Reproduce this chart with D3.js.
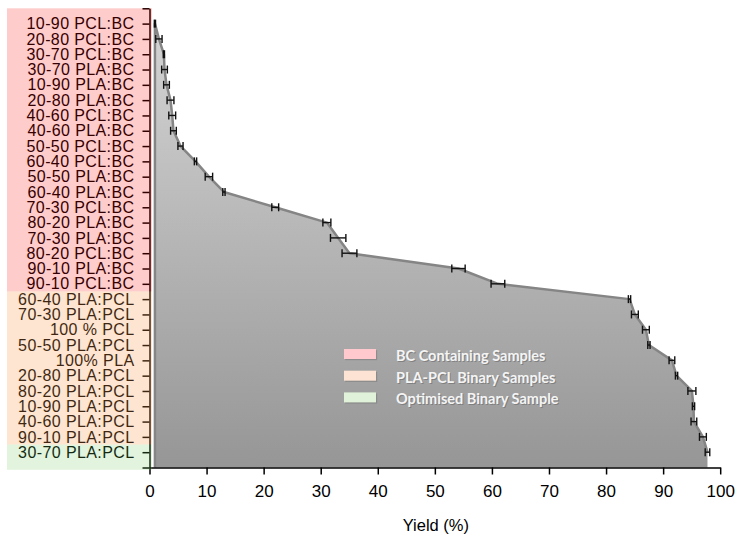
<!DOCTYPE html>
<html>
<head>
<meta charset="utf-8">
<script src="https://cdn.jsdelivr.net/npm/d3@7/dist/d3.min.js"></script>
<style>
  html, body { margin: 0; padding: 0; background: #ffffff; }
  svg { display: block; }
</style>
</head>
<body>
<script>
// ---- data ----
const categories = [
  "10-90 PCL:BC", "20-80 PCL:BC", "30-70 PCL:BC", "30-70 PLA:BC", "10-90 PLA:BC",
  "20-80 PLA:BC", "40-60 PCL:BC", "40-60 PLA:BC", "50-50 PCL:BC", "60-40 PCL:BC",
  "50-50 PLA:BC", "60-40 PLA:BC", "70-30 PCL:BC", "80-20 PLA:BC", "70-30 PLA:BC",
  "80-20 PCL:BC", "90-10 PLA:BC", "90-10 PCL:BC",
  "60-40 PLA:PCL", "70-30 PLA:PCL", "100 % PCL", "50-50 PLA:PCL", "100% PLA",
  "20-80 PLA:PCL", "80-20 PLA:PCL", "10-90 PLA:PCL", "40-60 PLA:PCL", "90-10 PLA:PCL",
  "30-70 PLA:PCL"
];
const yields = [
  0.95, 1.65, 2.52, 2.63, 2.98, 3.68, 3.98, 4.2, 5.43, 8.06,
  10.41, 13.04, 22.03, 31.08, 33.06, 35.04, 54.14, 61.05,
  84.11, 85.05, 86.98, 87.51, 91.54, 92.35, 95.04, 95.32, 95.39, 96.97,
  97.77
];
const errors = [
  0.1, 0.55, 0.1, 0.5, 0.5, 0.6, 0.6, 0.5, 0.45, 0.2,
  0.65, 0.2, 0.6, 0.7, 1.35, 1.3, 1.17, 1.2,
  0.2, 0.6, 0.6, 0.2, 0.5, 0.2, 0.7, 0.2, 0.5, 0.6,
  0.4
];
const groupNames = ["BC Containing Samples", "PLA-PCL Binary Samples", "Optimised Binary Sample"];
const groupCounts = [18, 10, 1];
const groupOverlay = ["rgba(255,0,0,0.2)", "rgba(247,150,70,0.25)", "rgba(112,200,90,0.2)"];
const groupSwatch = ["#ffc9cd", "#fde3d3", "#e0f2da"];
const xTicks = [0, 10, 20, 30, 40, 50, 60, 70, 80, 90, 100];
const xTitle = "Yield (%)";

// ---- layout ----
const W = 743, H = 542;
const svg = d3.select("body").append("svg").attr("width", W).attr("height", H);

const x = d3.scaleLinear().domain([0, 100]).range([149.5, 720.2]);
const y = d3.scaleLinear().domain([0, 30]).range([8.3, 467.5]);

const pts = yields.map((v, i) => ({ v, e: errors[i], k: i + 1, c: categories[i] }));

// gradient
const defs = svg.append("defs");
const grad = defs.append("linearGradient").attr("id", "g").attr("x1", 0).attr("y1", 0).attr("x2", 0).attr("y2", 1);
grad.append("stop").attr("offset", "0%").attr("stop-color", "#d4d4d4");
grad.append("stop").attr("offset", "100%").attr("stop-color", "#969696");

// area polygon
const first = pts[0], last = pts[pts.length - 1];
const poly = [[x(first.v), y(30)], ...pts.map(p => [x(p.v), y(p.k)]), [x(last.v), y(30)]];
svg.append("path")
  .attr("d", d3.line()(poly) + "Z")
  .attr("fill", "url(#g)")
  .attr("stroke", "none");
svg.append("path")
  .attr("d", d3.line()([[x(first.v), y(30)], ...pts.map(p => [x(p.v), y(p.k)])]))
  .attr("fill", "none")
  .attr("stroke", "#858585")
  .attr("stroke-width", 2.5)
  .attr("stroke-linejoin", "round");

// error bars
const eb = svg.append("g").attr("stroke", "#111").attr("stroke-width", 1.4).attr("fill", "none");
pts.forEach(p => {
  const yy = y(p.k), x0 = x(p.v - p.e), x1 = x(p.v + p.e);
  eb.append("line").attr("x1", x0).attr("x2", x1).attr("y1", yy).attr("y2", yy);
  eb.append("line").attr("x1", x0).attr("x2", x0).attr("y1", yy - 4).attr("y2", yy + 4);
  eb.append("line").attr("x1", x1).attr("x2", x1).attr("y1", yy - 4).attr("y2", yy + 4);
});

// x axis
const xAxis = svg.append("g")
  .attr("transform", `translate(0,${y(30)})`)
  .call(d3.axisBottom(x).tickValues(xTicks).tickSize(7).tickSizeOuter(0).tickPadding(10));
xAxis.select(".domain").attr("stroke", "#000").attr("stroke-width", 1.5);
xAxis.selectAll(".tick line").attr("stroke", "#000").attr("stroke-width", 1.5);
xAxis.selectAll(".tick text")
  .attr("font-family", "'Liberation Sans', Arial, sans-serif")
  .attr("font-size", 17).attr("fill", "#000");

// y axis
const yTickVals = d3.range(0, 31);
const yAxis = svg.append("g")
  .attr("transform", `translate(${x(0)},0)`)
  .call(d3.axisLeft(y).tickValues(yTickVals).tickSize(7).tickSizeOuter(0).tickPadding(8)
    .tickFormat(d => (d >= 1 && d <= categories.length) ? categories[d - 1] : ""));
yAxis.select(".domain").attr("stroke", "#000").attr("stroke-width", 1.5);
yAxis.selectAll(".tick line").attr("stroke", "#000").attr("stroke-width", 1.5);
yAxis.selectAll(".tick text")
  .attr("font-family", "'Liberation Sans', Arial, sans-serif")
  .attr("font-size", 16)
  .attr("letter-spacing", 0.4)
  .attr("fill", "#000");

// x title
svg.append("text")
  .attr("x", (x(0) + x(100)) / 2 + 1).attr("y", 531)
  .attr("text-anchor", "middle")
  .attr("font-family", "'Liberation Sans', Arial, sans-serif")
  .attr("font-size", 16.5).attr("fill", "#000")
  .text(xTitle);

// group bands overlay (over labels)
let start = 0;
const bandTop = y(0);
groupCounts.forEach((n, gi) => {
  const y0 = gi === 0 ? bandTop : y(start + 0.5);
  const y1 = gi === groupCounts.length - 1 ? y(30.15) : y(start + n + 0.5);
  svg.append("rect")
    .attr("x", 7).attr("y", y0)
    .attr("width", 152 - 7).attr("height", y1 - y0)
    .attr("fill", groupOverlay[gi]);
  start += n;
});

// legend
const lg = svg.append("g").attr("transform", "translate(344,349)");
groupNames.forEach((name, i) => {
  const row = lg.append("g").attr("transform", `translate(0,${i * 21.7})`);
  row.append("rect").attr("x", 1.2).attr("y", 1.2).attr("width", 32).attr("height", 10)
    .attr("fill", "#6f6f6f").attr("opacity", 0.45);
  row.append("rect").attr("x", 0).attr("y", 0).attr("width", 32).attr("height", 10)
    .attr("fill", groupSwatch[i]);
  row.append("text").attr("x", 52).attr("y", 12).attr("dx", 1).attr("dy", 1)
    .attr("font-family", "Lato, 'Open Sans', sans-serif").attr("font-weight", 700)
    .attr("font-size", 14.5).attr("fill", "#6a6a6a").attr("opacity", 0.6).text(name);
  row.append("text").attr("x", 52).attr("y", 12)
    .attr("font-family", "Lato, 'Open Sans', sans-serif").attr("font-weight", 700)
    .attr("font-size", 14.5).attr("fill", "#f4f4f4").text(name);
});
</script>
</body>
</html>
